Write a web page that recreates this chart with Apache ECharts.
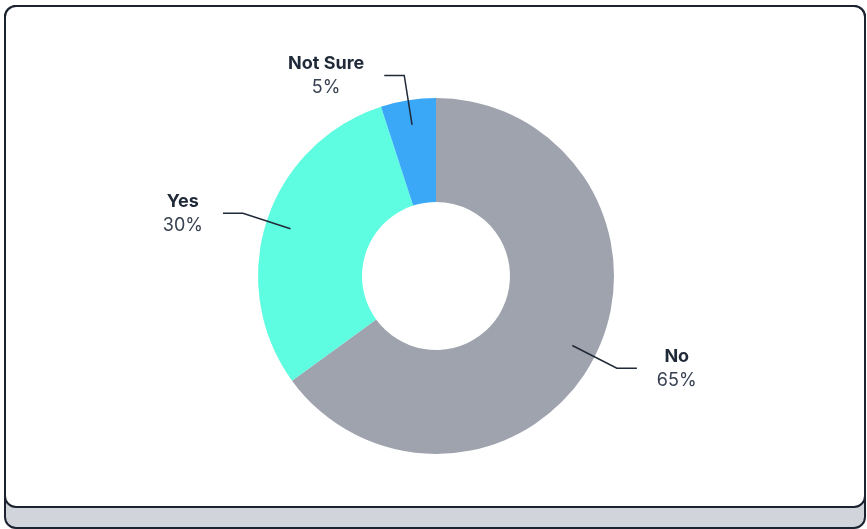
<!DOCTYPE html>
<html>
<head>
<meta charset="utf-8">
<script src="https://cdn.jsdelivr.net/npm/echarts@6/dist/echarts.min.js"></script>
<style>
  html, body { margin: 0; padding: 0; background: #ffffff; }
  body { width: 867px; height: 529px; position: relative; overflow: hidden; }
  .card-base, .card-face {
    position: absolute; left: 4px; top: 5px; width: 862px;
    box-sizing: border-box; border: 2px solid #1b2230; border-radius: 12px;
  }
  .card-base { height: 524px; background: #d1d5db; }
  .card-face { height: 503px; background: #ffffff; }
  #chart { position: absolute; left: 0; top: 0; width: 867px; height: 529px; }
</style>
</head>
<body>
<div class="card-base"></div>
<div class="card-face"></div>
<div id="chart"></div>
<script>
// Survey answers and their shares (percent)
const answers = ['No', 'Yes', 'Not Sure'];
const shares = [65, 30, 5];
const sliceColors = ['#9ea3ad', '#5efce0', '#3ba7f7'];

const CENTER = [436, 276];

const chart = echarts.init(document.getElementById('chart'), null, { renderer: 'canvas' });

chart.setOption({
  animation: false,
  backgroundColor: 'transparent',
  series: [
    {
      // the visible donut
      type: 'pie',
      z: 2,
      center: CENTER,
      radius: [74, 178],
      startAngle: 90,
      clockwise: true,
      silent: true,
      data: answers.map((name, i) => ({
        name: name,
        value: shares[i],
        itemStyle: { color: sliceColors[i] }
      })),
      itemStyle: { borderWidth: 0 },
      label: { show: false },
      labelLine: { show: false }
    },
    {
      // same slices, invisible and narrower, so the leader lines start inside the ring
      type: 'pie',
      z: 5,
      center: CENTER,
      radius: [74, 153],
      startAngle: 90,
      clockwise: true,
      silent: true,
      avoidLabelOverlap: true,
      data: answers.map((name, i) => ({ name: name, value: shares[i] })),
      itemStyle: { color: 'rgba(0,0,0,0)', borderWidth: 0 },
      label: {
        show: true,
        distanceToLabelLine: 20,
        formatter: p => '{n|' + p.name + '}\n{v|' + p.value + '%}',
        fontFamily: 'Inter',
        rich: {
          n: { fontFamily: 'Inter', fontSize: 18, fontWeight: 'bold', color: '#1f2937', align: 'center', lineHeight: 24 },
          v: { fontFamily: 'Inter', fontSize: 18, color: '#374151', align: 'center', lineHeight: 24 }
        }
      },
      labelLine: {
        show: true,
        length: 50,
        length2: 20,
        lineStyle: { color: '#1f2937', width: 1.5 }
      }
    }
  ]
});
</script>
</body>
</html>
